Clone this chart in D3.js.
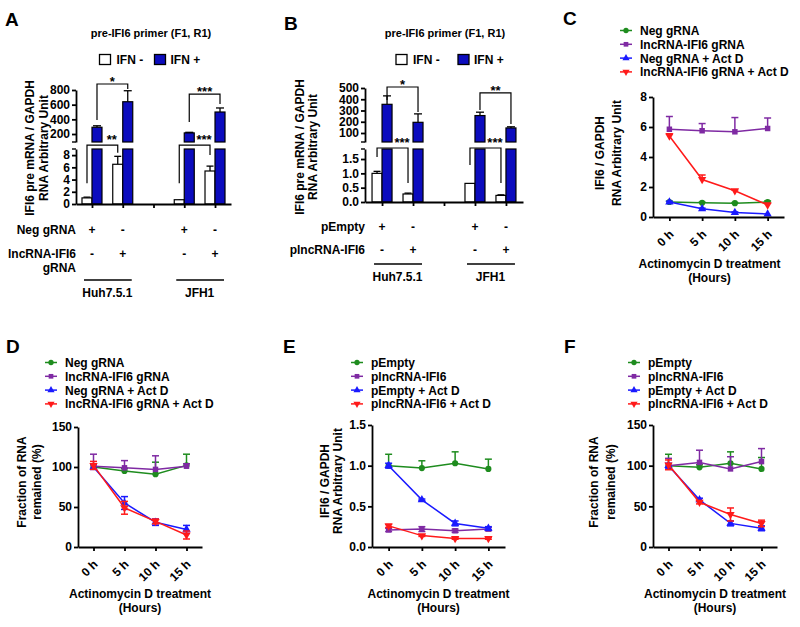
<!DOCTYPE html>
<html><head><meta charset="utf-8">
<script src="https://cdn.jsdelivr.net/npm/d3@7"></script>
<style>
body{margin:0;background:#fff}
svg text{font-family:"Liberation Sans",Arial,sans-serif;font-weight:bold;fill:#000}
</style></head><body>
<svg id="fig" width="800" height="627"></svg>
<script>
// ================= DATA =================
const barSlots = ["Huh7.5.1|a", "Huh7.5.1|b", "gap", "JFH1|a", "JFH1|b"];
const cellLines = ["Huh7.5.1", "JFH1"];
const ifnLegend = ["IFN -", "IFN +"];
const barTitle = "pre-IFI6 primer (F1, R1)";
const barYLabel = ["IFI6 pre mRNA / GAPDH", "RNA Arbitrary Unit"];

// Panel A
const aRowLabels = ["Neg gRNA", "lncRNA-IFI6", "gRNA"];
const aNegSigns = ["+", "-", "+", "-"];
const aLncSigns = ["-", "+", "-", "+"];
const aIfnMinus = [1.0, 6.5, 0.7, 5.4];
const aIfnMinusErr = [0.12, 1.3, 0.08, 0.8];
const aIfnPlus = [292, 640, 215, 500];
const aIfnPlusErr = [20, 150, 8, 55];
const aUpperTicks = [200, 400, 600, 800];
const aLowerTicks = [0, 2, 4, 6, 8];
const aUpperBrackets = [{from: 0, to: 1, level: 882, left: 391, right: 814, label: "*"},
                        {from: 2, to: 3, level: 745, left: 364, right: 609, label: "***"}];
const aLowerBrackets = [{from: 0, to: 1, level: 9.65, left: 3.4, right: 8.4, label: "**"},
                        {from: 2, to: 3, level: 9.65, left: 3.4, right: 8.0, label: "***"}];

// Panel B
const bRowLabels = ["pEmpty", "plncRNA-IFI6"];
const bEmptySigns = ["+", "-", "+", "-"];
const bLncSigns = ["-", "+", "-", "+"];
const bIfnMinus = [1.0, 0.28, 0.65, 0.23];
const bIfnMinusErr = [0.07, 0.03, 0.01, 0.02];
const bIfnPlus = [355, 195, 255, 145];
const bIfnPlusErr = [75, 75, 30, 10];
const bUpperTicks = [100, 200, 300, 400, 500];
const bLowerTicks = [0, 0.5, 1.0, 1.5];
const bUpperBrackets = [{from: 0, to: 1, level: 509, left: 393, right: 287, label: "*"},
                        {from: 2, to: 3, level: 456, left: 304, right: 180, label: "**"}];
const bLowerBrackets = [{from: 0, to: 1, level: 1.885, left: 1.57, right: 0.66, label: "***"},
                        {from: 2, to: 3, level: 1.885, left: 1.29, right: 0.66, label: "***"}];

// Time-course panels
const timeLabels = ["0 h", "5 h", "10 h", "15 h"];
const xTitle = ["Actinomycin D treatment", "(Hours)"];
const gRnaLegend = ["Neg gRNA", "lncRNA-IFI6 gRNA", "Neg gRNA + Act D", "lncRNA-IFI6 gRNA + Act D"];
const plasmidLegend = ["pEmpty", "plncRNA-IFI6", "pEmpty + Act D", "plncRNA-IFI6 + Act D"];
const rnaYLabel = ["IFI6 / GAPDH", "RNA Arbitrary Unit"];
const fracYLabel = ["Fraction of RNA", "remained (%)"];

// Panel C
const cNeg = [1.0, 0.95, 0.92, 1.0];          const cNegErr = [0.05, 0.04, 0.04, 0.07];
const cLnc = [5.85, 5.75, 5.68, 5.9];         const cLncErr = [0.85, 0.48, 0.95, 0.7];
const cNegAct = [1.0, 0.55, 0.3, 0.2];        const cNegActErr = [0.05, 0.04, 0.04, 0.03];
const cLncAct = [5.4, 2.5, 1.75, 0.8];        const cLncActErr = [0.15, 0.3, 0.05, 0.12];
const cTicks = [0, 2, 4, 6, 8];

// Panel D
const dNeg = [100, 95, 91, 102];              const dNegErr = [3, 3, 15, 14];
const dLnc = [101, 99, 97, 101];              const dLncErr = [15, 9, 17, 3];
const dNegAct = [100, 55, 31, 22];            const dNegActErr = [3, 8, 4, 5];
const dLncAct = [102, 49, 32, 15];            const dLncActErr = [5, 8, 3, 5];
const dTicks = [0, 50, 100, 150];

// Panel E
const eEmpty = [1.0, 0.97, 1.03, 0.96];       const eEmptyErr = [0.14, 0.09, 0.14, 0.12];
const eLnc = [0.21, 0.22, 0.2, 0.22];         const eLncErr = [0.02, 0.03, 0.02, 0.02];
const eEmptyAct = [1.0, 0.58, 0.29, 0.23];    const eEmptyActErr = [0.03, 0.01, 0.03, 0.02];
const eLncAct = [0.26, 0.14, 0.105, 0.105];   const eLncActErr = [0.02, 0.01, 0.01, 0.01];
const eTicks = [0, 0.5, 1.0, 1.5];

// Panel F
const fEmpty = [100, 98, 103, 96];            const fEmptyErr = [14, 3, 14, 14];
const fLnc = [100, 104, 96, 105];             const fLncErr = [9, 15, 15, 16];
const fEmptyAct = [100, 58, 29, 23];          const fEmptyActErr = [3, 2, 3, 3];
const fLncAct = [101, 55, 40, 29];            const fLncActErr = [6, 2, 8, 4];
const fTicks = [0, 50, 100, 150];

// ================= DRAWING =================
const svg = d3.select("#fig");
const BAR_BLUE = "#0c0cbe";
const COLORS = ["#1e8c1e", "#7f2aa3", "#1a1aff", "#ff1a1a"];
const AXW = 1.8;

function text(g, x, y, s, o = {}) {
  const t = g.append("text").attr("x", x).attr("y", y).text(s)
    .attr("font-size", o.size || 12).attr("text-anchor", o.anchor || "start");
  if (o.transform) t.attr("transform", o.transform);
  return t;
}
function styleAxis(sel) {
  sel.select(".domain").attr("stroke", "#000").attr("stroke-width", AXW);
  sel.selectAll(".tick line").attr("stroke", "#000").attr("stroke-width", AXW);
  sel.selectAll(".tick text").attr("font-size", 12).attr("fill", "#000");
}
function yLabel(g, cx1, cx2, cy, lines) {
  text(g, 0, 0, lines[0], {anchor: "middle", transform: `translate(${cx1 + 4},${cy}) rotate(-90)`});
  text(g, 0, 0, lines[1], {anchor: "middle", transform: `translate(${cx2 + 4},${cy}) rotate(-90)`});
}
function errBar(g, cx, yv, ytop, ybot, hw, col, w) {
  g.append("line").attr("x1", cx).attr("x2", cx).attr("y1", ytop).attr("y2", ybot)
    .attr("stroke", col).attr("stroke-width", w);
  if (ytop < yv - 0.5) g.append("line").attr("x1", cx - hw).attr("x2", cx + hw).attr("y1", ytop).attr("y2", ytop).attr("stroke", col).attr("stroke-width", w);
  if (ybot > yv + 0.5) g.append("line").attr("x1", cx - hw).attr("x2", cx + hw).attr("y1", ybot).attr("y2", ybot).attr("stroke", col).attr("stroke-width", w);
}

function barPanel(o) {
  const g = svg.append("g");
  const x = d3.scalePoint().domain(barSlots).range(o.xr).padding(o.pad);
  const yLo = d3.scaleLinear().domain(o.loDomain).range(o.loRange);
  const yHi = d3.scaleLinear().domain(o.hiDomain).range(o.hiRange);
  const ax = o.xr[0];
  const groups = barSlots.filter(s => s !== "gap");
  const bw = 10;

  // title & legend
  text(g, o.titleX, 37, barTitle, {size: 11, anchor: "middle"});
  g.append("rect").attr("x", o.legX[0]).attr("y", 54.5).attr("width", 11).attr("height", 10)
    .attr("fill", "#fff").attr("stroke", "#000").attr("stroke-width", 1.3);
  text(g, o.legX[0] + 17, 64, ifnLegend[0]);
  g.append("rect").attr("x", o.legX[1]).attr("y", 54.5).attr("width", 11).attr("height", 10)
    .attr("fill", BAR_BLUE).attr("stroke", "#000").attr("stroke-width", 1.3);
  text(g, o.legX[1] + 16, 64, ifnLegend[1]);

  // bars
  groups.forEach((s, i) => {
    const c = x(s);
    const vm = o.minus[i], em = o.minusErr[i];
    errBar(g, c - bw / 2, yLo(vm), yLo(vm + em), yLo(vm), 3.5, "#000", 1.3);
    g.append("rect").attr("x", c - bw).attr("y", yLo(vm)).attr("width", bw)
      .attr("height", yLo(0) - yLo(vm)).attr("fill", "#fff").attr("stroke", "#000").attr("stroke-width", 1.2);
    g.append("rect").attr("x", c).attr("y", o.loRange[1]).attr("width", bw)
      .attr("height", yLo(0) - o.loRange[1]).attr("fill", BAR_BLUE).attr("stroke", "#000").attr("stroke-width", 1.2);
    const vp = o.plus[i], ep = o.plusErr[i];
    errBar(g, c + bw / 2, yHi(vp), yHi(vp + ep), yHi(vp), 4, "#000", 1.3);
    g.append("rect").attr("x", c).attr("y", yHi(vp)).attr("width", bw)
      .attr("height", o.hiRange[0] - yHi(vp)).attr("fill", BAR_BLUE).attr("stroke", "#000").attr("stroke-width", 1.2);
  });

  // axes
  const a1 = g.append("g").attr("transform", `translate(${ax},0)`)
    .call(d3.axisLeft(yHi).tickValues(o.hiTicks).tickSize(4).tickSizeOuter(0).tickPadding(2));
  const a2 = g.append("g").attr("transform", `translate(${ax},0)`)
    .call(d3.axisLeft(yLo).tickValues(o.loTicks).tickFormat(o.loFmt).tickSize(4).tickSizeOuter(0).tickPadding(2));
  const a3 = g.append("g").attr("transform", `translate(0,${o.loRange[0]})`)
    .call(d3.axisBottom(x).tickSize(4).tickSizeOuter(0).tickFormat(""));
  [a1, a2, a3].forEach(styleAxis);
  [o.hiRange[0], o.loRange[1]].forEach(yy => g.append("line").attr("x1", ax - 4).attr("x2", ax)
    .attr("y1", yy).attr("y2", yy).attr("stroke", "#000").attr("stroke-width", 1.4));

  // brackets
  o.hiBrackets.forEach(b => {
    const x1 = x(groups[b.from]) + bw / 2, x2 = x(groups[b.to]) + bw / 2, yl = yHi(b.level);
    g.append("path").attr("d", `M${x1},${yHi(b.left)}V${yl}H${x2}V${yHi(b.right)}`)
      .attr("fill", "none").attr("stroke", "#000").attr("stroke-width", 1.2);
    text(g, (x1 + x2) / 2, yl + 2, b.label, {size: 13, anchor: "middle"});
  });
  o.loBrackets.forEach(b => {
    const x1 = x(groups[b.from]) - bw / 2, x2 = x(groups[b.to]) - bw / 2, yl = yLo(b.level);
    g.append("path").attr("d", `M${x1},${yLo(b.left)}V${yl}H${x2}V${yLo(b.right)}`)
      .attr("fill", "none").attr("stroke", "#000").attr("stroke-width", 1.2);
    text(g, x2 - 6, yl - 1, b.label, {size: 13, anchor: "middle"});
  });

  // row labels
  o.rows.forEach(r => {
    r.labels.forEach((l, k) => text(g, ax, r.y + k * 14, l, {anchor: "end"}));
    if (r.signs) r.signs.forEach((s, i) => text(g, x(groups[i]), r.y, s, {anchor: "middle"}));
  });
  cellLines.forEach((cl, k) => {
    const xa = x(groups[2 * k]), xb = x(groups[2 * k + 1]);
    g.append("line").attr("x1", xa - 8).attr("x2", xb + 9).attr("y1", o.lineY).attr("y2", o.lineY)
      .attr("stroke", "#000").attr("stroke-width", 1.4);
    text(g, (xa + xb) / 2, o.lineY + 17, cl, {anchor: "middle"});
  });
  yLabel(g, o.yl[0], o.yl[1], o.yl[2], barYLabel);
  text(g, o.letter[0], o.letter[1], o.letter[2], {size: 19});
}

function marker(g, k, cx, cy, size) {
  const types = [d3.symbolCircle, d3.symbolSquare, d3.symbolTriangle, d3.symbolTriangle];
  g.append("path").attr("d", d3.symbol().type(types[k]).size(size)())
    .attr("transform", `translate(${cx},${cy})${k === 3 ? " rotate(180)" : ""}`)
    .attr("fill", COLORS[k]);
}

function linePanel(o) {
  const g = svg.append("g");
  const x = d3.scalePoint().domain(timeLabels).range(o.xr).padding(0.5);
  const y = d3.scaleLinear().domain(o.yDomain).range(o.yr);
  const y0 = o.yr[0];

  o.series.forEach((s, k) => {
    const col = COLORS[k];
    g.append("path").datum(s.v)
      .attr("d", d3.line().x((d, i) => x(timeLabels[i])).y(d => y(d)))
      .attr("fill", "none").attr("stroke", col).attr("stroke-width", 1.5);
    s.v.forEach((v, i) => {
      const e = s.e[i], cx = x(timeLabels[i]);
      const top = s.dir === "down" ? y(v) : y(v + e);
      const bot = s.dir === "up" ? y(v) : y(v - e);
      errBar(g, cx, y(v), top, bot, 3.5, col, 1.5);
    });
    s.v.forEach((v, i) => marker(g, k, x(timeLabels[i]), y(v), 30));
  });

  const ya = g.append("g").attr("transform", `translate(${o.xr[0]},0)`)
    .call(d3.axisLeft(y).tickValues(o.ticks).tickFormat(o.fmt).tickSize(4).tickSizeOuter(0).tickPadding(2));
  const xa = g.append("g").attr("transform", `translate(0,${y0})`)
    .call(d3.axisBottom(x).tickSize(4).tickSizeOuter(0).tickFormat(""));
  [ya, xa].forEach(styleAxis);
  timeLabels.forEach(t => text(g, 0, 0, t, {anchor: "end",
    transform: `translate(${x(t) + 5},${y0 + 18}) rotate(-45)`}));
  const xc = (o.xr[0] + o.xr[1]) / 2 + o.xtOff;
  text(g, xc, y0 + 51, xTitle[0], {anchor: "middle"});
  text(g, xc, y0 + 65, xTitle[1], {anchor: "middle"});
  yLabel(g, o.yl[0], o.yl[1], o.yl[2], o.yLabel);

  // legend
  o.legend.forEach((l, k) => {
    const by = o.legY + k * 13.8, cy = by - 4.5;
    g.append("line").attr("x1", o.legX).attr("x2", o.legX + 12).attr("y1", cy).attr("y2", cy)
      .attr("stroke", COLORS[k]).attr("stroke-width", 1.5);
    marker(g, k, o.legX + 6, cy, 22);
    text(g, o.legX + 20, by, l);
  });
  text(g, o.letter[0], o.letter[1], o.letter[2], {size: 19});
}

// ---- Panel A ----
barPanel({
  xr: [76, 231], pad: 0.52,
  loDomain: [0, 9], loRange: [204, 149],
  hiDomain: [91, 800], hiRange: [142, 90],
  hiTicks: aUpperTicks, loTicks: aLowerTicks, loFmt: d3.format("d"),
  minus: aIfnMinus, minusErr: aIfnMinusErr, plus: aIfnPlus, plusErr: aIfnPlusErr,
  hiBrackets: aUpperBrackets, loBrackets: aLowerBrackets,
  titleX: 151, legX: [99.5, 154.5],
  rows: [{y: 234, labels: [aRowLabels[0]], signs: aNegSigns},
         {y: 258, labels: [aRowLabels[1], aRowLabels[2]], signs: aLncSigns}],
  lineY: 280, yl: [30, 44, 148], letter: [5, 26, "A"]
});

// ---- Panel B ----
barPanel({
  xr: [365, 523], pad: 0.55,
  loDomain: [0, 1.85], loRange: [202, 149],
  hiDomain: [20, 500], hiRange: [142, 88],
  hiTicks: bUpperTicks, loTicks: bLowerTicks, loFmt: d3.format(".1f"),
  minus: bIfnMinus, minusErr: bIfnMinusErr, plus: bIfnPlus, plusErr: bIfnPlusErr,
  hiBrackets: bUpperBrackets, loBrackets: bLowerBrackets,
  titleX: 445, legX: [396, 458],
  rows: [{y: 231, labels: [bRowLabels[0]], signs: bEmptySigns},
         {y: 254, labels: [bRowLabels[1]], signs: bLncSigns}],
  lineY: 264, yl: [300, 313, 147], letter: [284, 30, "B"]
});

// ---- Panel C ----
linePanel({
  xr: [653, 784], yDomain: [0, 8], yr: [217, 97], ticks: cTicks, fmt: d3.format("d"),
  series: [{v: cNeg, e: cNegErr, dir: "up"}, {v: cLnc, e: cLncErr, dir: "up"},
           {v: cNegAct, e: cNegActErr, dir: "up"}, {v: cLncAct, e: cLncActErr, dir: "up"}],
  legend: gRnaLegend, legX: 620, legY: 35, yLabel: rnaYLabel, yl: [600, 617, 153],
  xtOff: -9, letter: [563, 25, "C"]
});

// ---- Panel D ----
linePanel({
  xr: [78, 202], yDomain: [0, 150], yr: [547, 427], ticks: dTicks, fmt: d3.format("d"),
  series: [{v: dNeg, e: dNegErr, dir: "up"}, {v: dLnc, e: dLncErr, dir: "up"},
           {v: dNegAct, e: dNegActErr, dir: "both"}, {v: dLncAct, e: dLncActErr, dir: "both"}],
  legend: gRnaLegend, legX: 45, legY: 367, yLabel: fracYLabel, yl: [22, 37, 482],
  xtOff: 0, letter: [6, 353, "D"]
});

// ---- Panel E ----
linePanel({
  xr: [372, 505], yDomain: [0, 1.5], yr: [547, 425], ticks: eTicks, fmt: d3.format(".1f"),
  series: [{v: eEmpty, e: eEmptyErr, dir: "up"}, {v: eLnc, e: eLncErr, dir: "both"},
           {v: eEmptyAct, e: eEmptyActErr, dir: "both"}, {v: eLncAct, e: eLncActErr, dir: "both"}],
  legend: plasmidLegend, legX: 351, legY: 367, yLabel: rnaYLabel, yl: [325, 338, 481],
  xtOff: 0, letter: [283, 353, "E"]
});

// ---- Panel F ----
linePanel({
  xr: [653, 777], yDomain: [0, 150], yr: [547, 425], ticks: fTicks, fmt: d3.format("d"),
  series: [{v: fEmpty, e: fEmptyErr, dir: "up"}, {v: fLnc, e: fLncErr, dir: "up"},
           {v: fEmptyAct, e: fEmptyActErr, dir: "both"}, {v: fLncAct, e: fLncActErr, dir: "both"}],
  legend: plasmidLegend, legX: 628, legY: 367, yLabel: fracYLabel, yl: [594, 611, 482],
  xtOff: 0, letter: [564, 353, "F"]
});
</script>
</body></html>
